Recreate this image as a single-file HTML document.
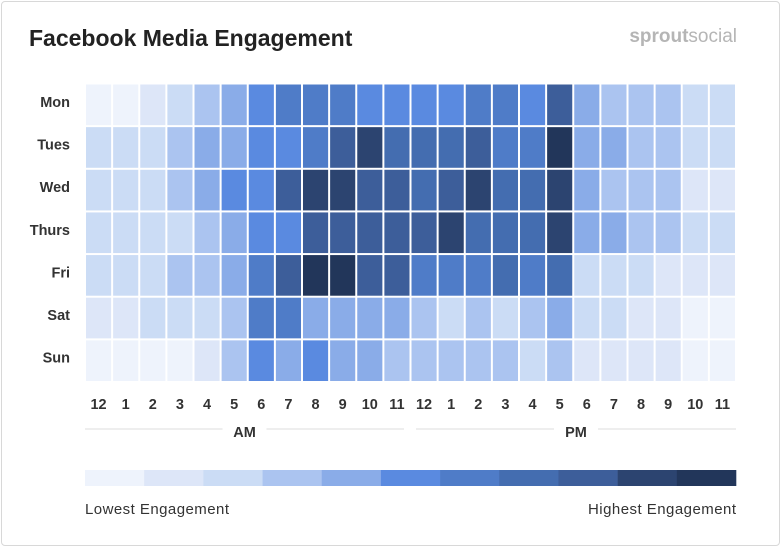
<!DOCTYPE html>
<html><head><meta charset="utf-8"><style>
body{margin:0;background:#fff;font-family:"Liberation Sans",sans-serif;}
#card{position:absolute;left:1px;top:1px;width:777px;height:543px;border:1px solid #d8d8d8;border-radius:4px;background:#fff;}
</style></head><body>
<div id="card"></div>
<svg id="chart" width="781" height="547" style="position:absolute;left:0;top:0">
<text x="29" y="46" font-size="23" font-weight="bold" fill="#222">Facebook Media Engagement</text>
<text x="737" y="42" font-size="19" text-anchor="end" fill="#b5b5b5"><tspan font-weight="bold">sprout</tspan>social</text>
</svg>
<script>
const days=["Mon","Tues","Wed","Thurs","Fri","Sat","Sun"];
const hours=["12","1","2","3","4","5","6","7","8","9","10","11","12","1","2","3","4","5","6","7","8","9","10","11"];
const palette=["#eef3fc","#dde6f8","#cbdcf5","#abc4f0","#8aace8","#5a8ae0","#4f7cc8","#446db0","#3d5e9a","#2c4470","#22365a"];
const mon=[0,0,1,2,3,4,5,6,6,6,5,5,5,5,6,6,5,8,4,3,3,3,2,2];
const tues=[2,2,2,3,4,4,5,5,6,8,9,7,7,7,8,6,6,10,4,4,3,3,2,2];
const wed=[2,2,2,3,4,5,5,8,9,9,8,8,7,8,9,7,7,9,4,3,3,3,1,1];
const thurs=[2,2,2,2,3,4,5,5,8,8,8,8,8,9,7,7,7,9,4,4,3,3,2,2];
const fri=[2,2,2,3,3,4,6,8,10,10,8,8,6,6,6,7,6,7,2,2,2,1,1,1];
const sat=[1,1,2,2,2,3,6,6,4,4,4,4,3,2,3,2,3,4,2,2,1,1,0,0];
const sun=[0,0,0,0,1,3,5,4,5,4,4,3,3,3,3,3,2,3,1,1,1,1,0,0];
const values=[mon,tues,wed,thurs,fri,sat,sun];
const svg=document.getElementById('chart');const NS="http://www.w3.org/2000/svg";
const x0=85,cw=(736-85)/24,y0=83.5,ch=(382-83.5)/7;
const xs=i=>x0+i*cw, ys=j=>y0+j*ch;
function mk(t,a){const e=document.createElementNS(NS,t);for(const k in a)e.setAttribute(k,a[k]);svg.appendChild(e);return e;}
values.forEach((row,j)=>{
 const l=mk('text',{x:70,y:ys(j)+ch/2+2,'font-size':14.5,'font-weight':'bold','text-anchor':'end',fill:'#333'});l.textContent=days[j];
 
 
 row.forEach((v,i)=>{
  const r=mk('rect',{x:xs(i)+1,y:ys(j)+1,width:cw-2,height:ch-2,fill:palette[v]});
  
  
 });
});
hours.forEach((h,i)=>{
 const t=mk('text',{x:xs(i)+cw/2,y:409,'font-size':14.5,'font-weight':'bold','text-anchor':'middle',fill:'#333'});t.textContent=h;
 
 
});
[["AM",85,404],["PM",416,736]].forEach(([n,a,b])=>{
 const ln=mk('line',{x1:a,x2:b,y1:429,y2:429,stroke:'#ddd','stroke-width':1});
 
 
 const t=mk('text',{x:(a+b)/2,y:437,'font-size':14.5,'font-weight':'bold','text-anchor':'middle',fill:'#333'});t.textContent=n;
 const bg=mk('rect',{x:(a+b)/2-22,y:420,width:44,height:20,fill:'#fff'});svg.insertBefore(bg,t);
 
 
});
const lw=(736-85)/palette.length;
palette.forEach((c,k)=>{
 const r=mk('rect',{x:85+k*lw,y:470,width:lw+0.3,height:16,fill:c});
 
 
});
const lo=mk('text',{x:85,y:514,'font-size':15,fill:'#333',textLength:144});lo.textContent="Lowest Engagement";


const hi=mk('text',{x:588,y:514,'font-size':15,fill:'#333',textLength:148});hi.textContent="Highest Engagement";


</script>
</body></html>
